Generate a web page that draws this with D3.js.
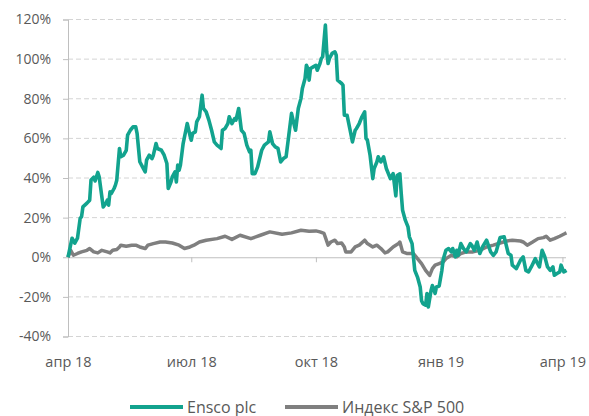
<!DOCTYPE html>
<html>
<head>
<meta charset="utf-8">
<script src="https://cdn.jsdelivr.net/npm/d3@7"></script>
<style>
body { margin: 0; background: #fff; }
text { font-family: "Open Sans", "Liberation Sans", sans-serif; fill: #595959; }
</style>
</head>
<body>
<svg id="chart" width="589" height="416"></svg>
<script>
// Ensco plc, % change since start
var enscoDates = ["2018-04-01","2018-04-04","2018-04-06","2018-04-08","2018-04-10","2018-04-11","2018-04-12","2018-04-15","2018-04-17","2018-04-18","2018-04-20","2018-04-21","2018-04-23","2018-04-24","2018-04-27","2018-04-29","2018-04-30","2018-05-01","2018-05-02","2018-05-03","2018-05-05","2018-05-06","2018-05-07","2018-05-09","2018-05-10","2018-05-12","2018-05-14","2018-05-15","2018-05-17","2018-05-19","2018-05-21","2018-05-22","2018-05-24","2018-05-26","2018-05-28","2018-05-29","2018-05-31","2018-06-02","2018-06-03","2018-06-05","2018-06-06","2018-06-09","2018-06-11","2018-06-13","2018-06-14","2018-06-16","2018-06-17","2018-06-19","2018-06-20","2018-06-21","2018-06-22","2018-06-23","2018-06-25","2018-06-27","2018-06-28","2018-06-30","2018-07-01","2018-07-02","2018-07-04","2018-07-05","2018-07-07","2018-07-09","2018-07-10","2018-07-12","2018-07-14","2018-07-16","2018-07-18","2018-07-20","2018-07-23","2018-07-24","2018-07-26","2018-07-28","2018-07-29","2018-07-31","2018-08-02","2018-08-03","2018-08-05","2018-08-07","2018-08-09","2018-08-11","2018-08-13","2018-08-14","2018-08-15","2018-08-17","2018-08-19","2018-08-22","2018-08-24","2018-08-27","2018-08-28","2018-08-30","2018-09-01","2018-09-03","2018-09-05","2018-09-07","2018-09-09","2018-09-11","2018-09-13","2018-09-15","2018-09-16","2018-09-18","2018-09-20","2018-09-21","2018-09-23","2018-09-24","2018-09-25","2018-09-26","2018-09-27","2018-09-29","2018-10-01","2018-10-02","2018-10-04","2018-10-05","2018-10-06","2018-10-08","2018-10-09","2018-10-10","2018-10-11","2018-10-13","2018-10-15","2018-10-16","2018-10-17","2018-10-20","2018-10-21","2018-10-22","2018-10-24","2018-10-26","2018-10-28","2018-10-30","2018-10-31","2018-11-02","2018-11-04","2018-11-06","2018-11-07","2018-11-08","2018-11-10","2018-11-12","2018-11-13","2018-11-15","2018-11-16","2018-11-18","2018-11-20","2018-11-22","2018-11-25","2018-11-27","2018-11-29","2018-11-30","2018-12-02","2018-12-03","2018-12-04","2018-12-06","2018-12-08","2018-12-09","2018-12-11","2018-12-12","2018-12-13","2018-12-15","2018-12-17","2018-12-18","2018-12-19","2018-12-21","2018-12-22","2018-12-23","2018-12-25","2018-12-26","2018-12-28","2018-12-29","2018-12-31","2019-01-02","2019-01-03","2019-01-05","2019-01-07","2019-01-09","2019-01-10","2019-01-12","2019-01-13","2019-01-14","2019-01-16","2019-01-18","2019-01-20","2019-01-23","2019-01-24","2019-01-26","2019-01-28","2019-01-30","2019-02-01","2019-02-04","2019-02-07","2019-02-09","2019-02-11","2019-02-14","2019-02-17","2019-02-20","2019-02-22","2019-02-23","2019-02-26","2019-03-01","2019-03-03","2019-03-05","2019-03-07","2019-03-09","2019-03-12","2019-03-13","2019-03-15","2019-03-17","2019-03-19","2019-03-21","2019-03-23","2019-03-25","2019-03-26","2019-03-28","2019-03-30","2019-03-31","2019-04-02","2019-04-04"];
var enscoValues = [0,9.6,7.1,9.6,19.7,20.4,25.4,27.3,28.8,39.0,40.4,38.5,42.8,40.6,25.4,27.3,28.8,26.3,33.0,32.2,34.7,36.4,38.9,54.9,50.7,51.5,54.0,61.6,64.1,65.8,65.8,62.5,48.2,45.6,43.1,49.0,51.5,49.8,51.5,57.4,54.9,54.0,51.5,47.3,34.7,38.0,40.6,43.1,38.0,46.5,43.9,46.5,57.4,64.1,67.5,61.6,59.1,62.5,63.3,68.3,70.9,81.8,75.1,73.4,69.2,64.1,58.2,56.6,54.9,64.1,65.0,67.5,70.9,67.5,70.0,69.2,75.1,64.1,62.5,56.6,53.2,54.0,42.2,42.2,45.6,54.0,56.6,58.2,63.3,57.4,55.7,55.0,48.1,49.8,50.7,61.6,72.6,66.7,64.1,75.1,80.2,85.2,90.2,96.9,95.3,89.4,95.3,96.1,96.9,94.4,97.8,100.3,101.2,117.2,103.7,97.8,100.3,102.9,103.7,102.0,89.4,87.7,86.9,71.7,71.7,65.0,58.2,64.1,65.0,67.5,70.9,73.4,60.0,59.1,51.5,39.7,44.8,48.1,50.7,48.1,50.7,44.8,39.7,42.2,31.0,41.2,42.1,32.1,23.7,18.7,15.3,10.3,6.9,0.2,-6.6,-10.0,-15.0,-21.9,-23.4,-24.2,-18.3,-25.1,-16.8,-14.3,-18.3,-15.0,-14.5,-6.6,-1.0,3.5,4.4,2.7,4.4,0.2,3.5,1.0,6.9,4.4,2.7,6.9,6.1,3.5,7.7,1.9,5.2,8.6,2.7,1.0,2.7,10.0,10.3,1.9,1.0,-4.0,-5.7,-1.5,0.2,-6.6,-7.4,-4.9,-0.7,-2.4,-4.9,3.5,0.2,-4.9,-6.6,-4.9,-9.1,-8.2,-7.4,-4.0,-7.4,-6.6];

// S&P 500 index, % change since start
var spxDates = ["2018-04-01","2018-04-03","2018-04-05","2018-04-08","2018-04-11","2018-04-15","2018-04-17","2018-04-20","2018-04-23","2018-04-26","2018-04-30","2018-05-02","2018-05-04","2018-05-07","2018-05-09","2018-05-10","2018-05-14","2018-05-18","2018-05-21","2018-05-24","2018-05-28","2018-05-30","2018-06-03","2018-06-08","2018-06-12","2018-06-17","2018-06-22","2018-06-26","2018-06-30","2018-07-03","2018-07-07","2018-07-12","2018-07-20","2018-07-26","2018-07-31","2018-08-06","2018-08-14","2018-08-21","2018-08-28","2018-09-06","2018-09-13","2018-09-20","2018-09-26","2018-10-01","2018-10-04","2018-10-07","2018-10-10","2018-10-12","2018-10-15","2018-10-17","2018-10-20","2018-10-22","2018-10-23","2018-10-27","2018-10-30","2018-11-02","2018-11-06","2018-11-08","2018-11-12","2018-11-15","2018-11-18","2018-11-21","2018-11-23","2018-11-27","2018-12-01","2018-12-02","2018-12-04","2018-12-07","2018-12-12","2018-12-15","2018-12-18","2018-12-21","2018-12-24","2018-12-26","2018-12-28","2018-12-31","2019-01-03","2019-01-05","2019-01-09","2019-01-13","2019-01-16","2019-01-20","2019-01-25","2019-01-30","2019-02-04","2019-02-09","2019-02-14","2019-02-19","2019-02-23","2019-03-01","2019-03-03","2019-03-06","2019-03-10","2019-03-14","2019-03-18","2019-03-20","2019-03-23","2019-03-26","2019-03-30","2019-04-03","2019-04-04"];
var spxValues = [0,3.5,1.0,1.9,2.7,3.5,4.4,2.7,2.2,3.5,2.7,2.2,3.5,3.9,5.2,6.1,5.6,6.1,6.1,5.2,4.4,6.1,6.9,7.7,7.7,7.2,6.1,4.4,5.2,6.1,7.7,8.6,9.4,10.6,9.0,11.1,9.4,11.1,12.8,11.6,12.3,13.6,13.1,13.3,12.8,12.0,6.1,7.7,8.6,6.9,7.2,5.2,2.7,2.7,5.2,6.1,8.6,6.9,5.2,6.1,4.4,2.2,2.7,5.2,6.9,7.7,2.7,1.9,1.9,-0.7,-3.2,-6.6,-9.1,-5.7,-4.0,-3.2,-2.4,-0.7,1.0,0.2,1.9,2.7,2.7,3.5,5.2,6.1,7.2,8.2,8.6,8.2,7.7,6.1,7.7,9.4,9.9,10.6,8.6,9.4,10.6,12.0,12.3];

var yTicks = [-40, -20, 0, 20, 40, 60, 80, 100, 120];
var xTickDates = ["2018-04-01","2018-07-01","2018-10-01","2019-01-01","2019-04-01"];
var xTickLabels = ["апр 18","июл 18","окт 18","янв 19","апр 19"];
var seriesNames = ["Ensco plc", "Индекс S&P 500"];
var colors = ["#12a38e", "#7f7f7f"];

var parse = d3.timeParse("%Y-%m-%d");
var svg = d3.select("#chart");

var x = d3.scaleTime()
	.domain([parse("2018-04-01"), parse("2019-04-04")])
	.range([68, 566.5]);
var y = d3.scaleLinear().domain([-40, 120]).range([336.5, 19.5]);

// gridlines
svg.append("g").selectAll("line")
	.data(yTicks.filter(function(d){ return d != 0; }))
	.enter().append("line")
	.attr("x1", 68).attr("x2", 566)
	.attr("y1", function(d){ return y(d); })
	.attr("y2", function(d){ return y(d); })
	.attr("stroke", "#d4d4d4")
	.attr("stroke-width", 1)
	.attr("stroke-dasharray", "5,3");

// y axis
var yAxis = d3.axisLeft(y).tickValues(yTicks).tickSize(5).tickPadding(12)
	.tickFormat(function(d){ return d + "%"; });
var gy = svg.append("g").attr("transform", "translate(68,0)").call(yAxis);
gy.select(".domain").attr("stroke", "#bfbfbf");
gy.selectAll(".tick line").attr("stroke", "#bfbfbf");
gy.selectAll("text").style("font-size", "14px").attr("fill", "#595959");

// x axis on the 0% line
var xAxis = d3.axisBottom(x).tickValues(xTickDates.map(parse)).tickSize(5)
	.tickFormat(function(d, i){ return xTickLabels[i]; });
var gx = svg.append("g").attr("transform", "translate(0," + y(0) + ")").call(xAxis);
gx.select(".domain").attr("d", "M68,0.5H566").attr("stroke", "#bfbfbf");
gx.selectAll(".tick line").attr("stroke", "#bfbfbf");
gx.selectAll("text").style("font-size", "14.5px").attr("fill", "#595959")
	.attr("y", y(-40) - y(0) + 20);

var line = d3.line()
	.x(function(d){ return x(d[0]); })
	.y(function(d){ return y(d[1]); });

var spx = spxDates.map(function(d, i){ return [parse(d), spxValues[i]]; });
var ensco = enscoDates.map(function(d, i){ return [parse(d), enscoValues[i]]; });

svg.append("path").datum(spx)
	.attr("d", line).attr("fill", "none")
	.attr("stroke", colors[1]).attr("stroke-width", 3.5)
	.attr("stroke-linejoin", "round");
svg.append("path").datum(ensco)
	.attr("d", line).attr("fill", "none")
	.attr("stroke", colors[0]).attr("stroke-width", 3.6)
	.attr("stroke-linejoin", "round");

// legend
var legendX = [130, 285];
for (var j = 0; j < seriesNames.length; j++){
	svg.append("line")
		.attr("x1", legendX[j]).attr("x2", legendX[j] + 53)
		.attr("y1", 407).attr("y2", 407)
		.attr("stroke", colors[j]).attr("stroke-width", 4);
	svg.append("text")
		.attr("x", legendX[j] + 57).attr("y", 412.5)
		.style("font-size", "16px")
		.text(seriesNames[j]);
}
</script>
</body>
</html>
